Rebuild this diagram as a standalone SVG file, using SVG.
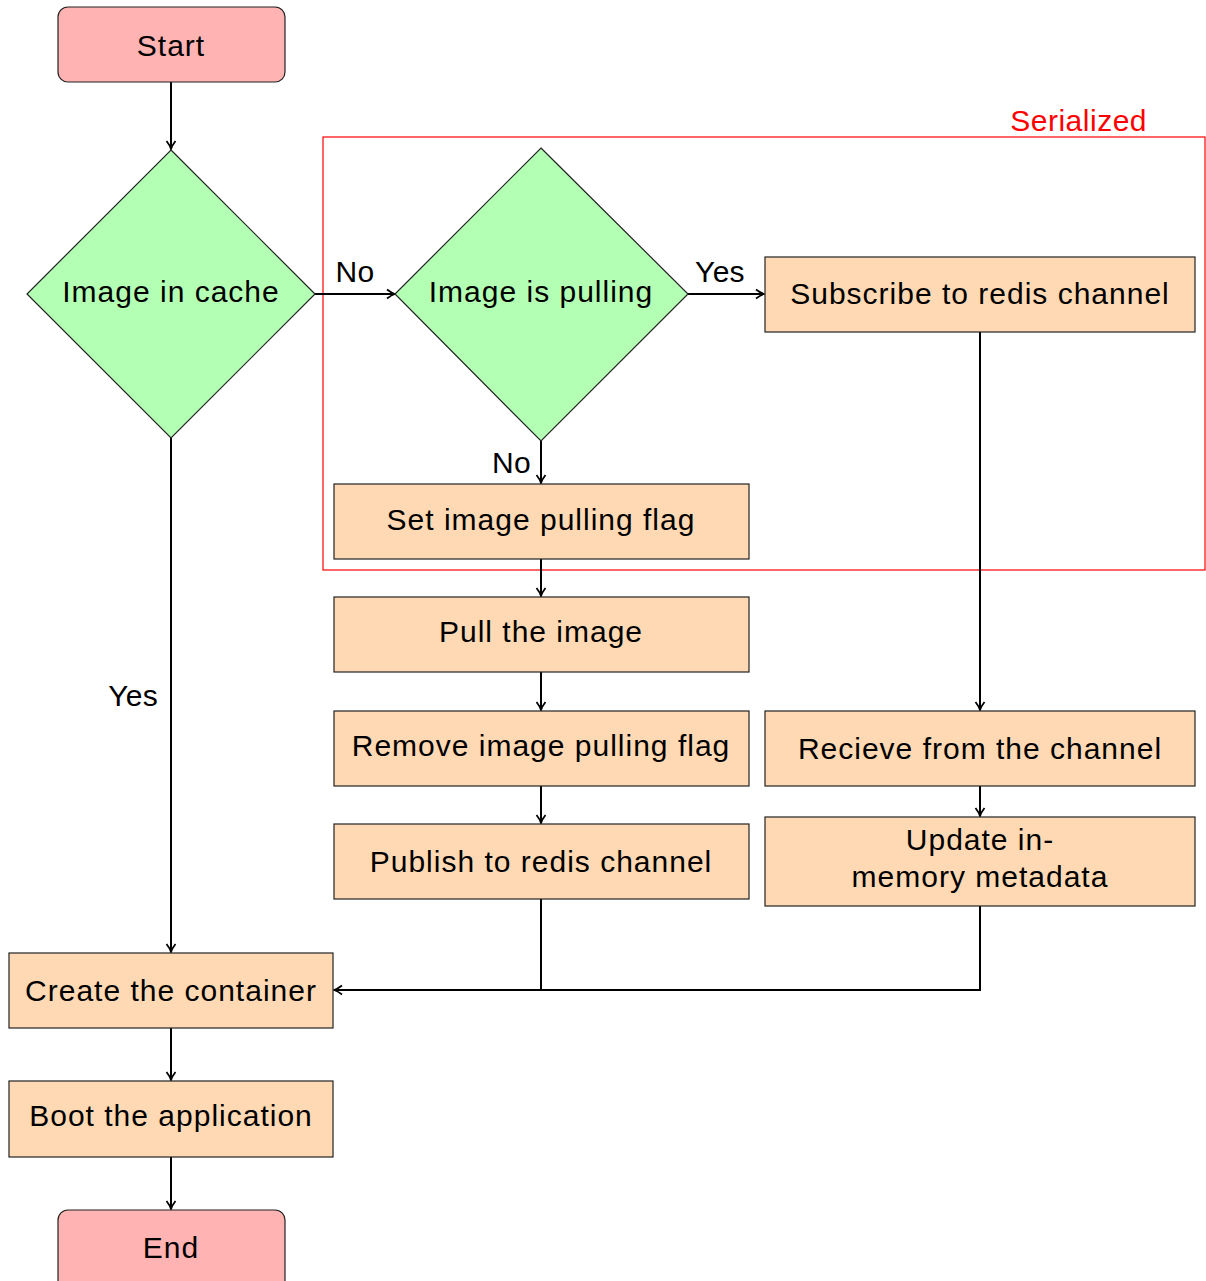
<svg xmlns="http://www.w3.org/2000/svg" width="1206" height="1281" viewBox="0 0 1206 1281">
<style>
text{font-family:"Liberation Sans",Arial,sans-serif;font-size:30px;letter-spacing:1px;fill:#000;text-anchor:middle}
.term{fill:#ffb3b3;stroke:#222;stroke-width:1.2}
.dec{fill:#b3ffb3;stroke:#222;stroke-width:1.2}
.proc{fill:#ffd9b3;stroke:#222;stroke-width:1.2}
.conn{fill:none;stroke:#000;stroke-width:2}
.lbl{letter-spacing:0.3px}
</style>
<defs>
<marker id="arr" markerWidth="14" markerHeight="14" refX="11" refY="7" orient="auto" markerUnits="userSpaceOnUse">
<path d="M3,2.5 Q7.5,6 11,7 Q7.5,8 3,11.5" fill="none" stroke="#000" stroke-width="1.8"/>
</marker>
</defs>
<g id="serialized">
<rect x="323" y="137" width="882" height="433" fill="none" stroke="#ff0000" stroke-width="1.2"/>
<text x="1147" y="131" style="text-anchor:end;fill:#ff0000;letter-spacing:0.5px">Serialized</text>
</g>
<g id="connectors">
<path class="conn" d="M171,82 V149" marker-end="url(#arr)"/>
<path class="conn" d="M315,294 H395" marker-end="url(#arr)"/>
<path class="conn" d="M688,294 H764" marker-end="url(#arr)"/>
<path class="conn" d="M541,441 V483" marker-end="url(#arr)"/>
<path class="conn" d="M541,559 V596" marker-end="url(#arr)"/>
<path class="conn" d="M541,672 V710" marker-end="url(#arr)"/>
<path class="conn" d="M541,786 V823" marker-end="url(#arr)"/>
<path class="conn" d="M980,332 V710" marker-end="url(#arr)"/>
<path class="conn" d="M980,786 V816" marker-end="url(#arr)"/>
<path class="conn" d="M171,438 V952" marker-end="url(#arr)"/>
<path class="conn" d="M541,899 V990 H334" marker-end="url(#arr)"/>
<path class="conn" d="M980,906 V990 H541"/>
<path class="conn" d="M171,1028 V1080" marker-end="url(#arr)"/>
<path class="conn" d="M171,1157 V1209" marker-end="url(#arr)"/>
<text class="lbl" x="355" y="282">No</text>
<text class="lbl" x="720" y="282">Yes</text>
<text class="lbl" x="531" y="473" style="text-anchor:end">No</text>
<text class="lbl" x="158" y="706" style="text-anchor:end">Yes</text>
</g>
<g id="start"><rect class="term" x="58" y="7" width="227" height="75" rx="10"/><text x="171" y="56">Start</text></g>
<g id="image-in-cache"><polygon class="dec" points="171,150 315,294 171,438 27,294"/><text x="171" y="302">Image in cache</text></g>
<g id="image-is-pulling"><polygon class="dec" points="541,148 688,294 541,441 395,294"/><text x="541" y="302">Image is pulling</text></g>
<g id="subscribe"><rect class="proc" x="765" y="257" width="430" height="75"/><text x="980" y="304">Subscribe to redis channel</text></g>
<g id="set-flag"><rect class="proc" x="334" y="484" width="415" height="75"/><text x="541" y="530">Set image pulling flag</text></g>
<g id="pull"><rect class="proc" x="334" y="597" width="415" height="75"/><text x="541" y="642">Pull the image</text></g>
<g id="remove-flag"><rect class="proc" x="334" y="711" width="415" height="75"/><text x="541" y="756">Remove image pulling flag</text></g>
<g id="publish"><rect class="proc" x="334" y="824" width="415" height="75"/><text x="541" y="872">Publish to redis channel</text></g>
<g id="receive"><rect class="proc" x="765" y="711" width="430" height="75"/><text x="980" y="759">Recieve from the channel</text></g>
<g id="update"><rect class="proc" x="765" y="817" width="430" height="89"/><text x="980" y="850">Update in-</text><text x="980" y="887">memory metadata</text></g>
<g id="create"><rect class="proc" x="9" y="953" width="324" height="75"/><text x="171" y="1001">Create the container</text></g>
<g id="boot"><rect class="proc" x="9" y="1081" width="324" height="76"/><text x="171" y="1126">Boot the application</text></g>
<g id="end"><rect class="term" x="58" y="1210" width="227" height="85" rx="10"/><text x="171" y="1258">End</text></g>
</svg>
